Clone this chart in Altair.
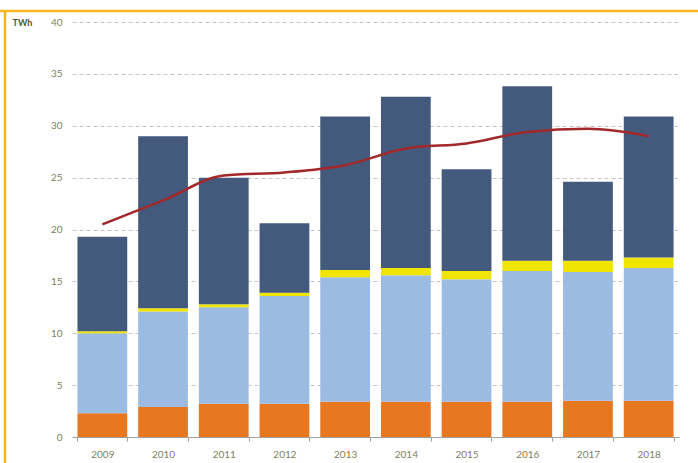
import altair as alt
import pandas as pd

years = ["2009", "2010", "2011", "2012", "2013", "2014", "2015", "2016", "2017", "2018"]
orange_vals = [2.3, 2.9, 3.2, 3.2, 3.4, 3.4, 3.4, 3.4, 3.5, 3.5]
lightblue_vals = [7.7, 9.2, 9.3, 10.4, 12.0, 12.2, 11.8, 12.6, 12.4, 12.8]
yellow_vals = [0.2, 0.3, 0.3, 0.3, 0.7, 0.7, 0.8, 1.0, 1.1, 1.0]
darkblue_vals = [9.1, 16.6, 12.2, 6.7, 14.8, 16.5, 9.8, 16.8, 7.6, 13.6]
line_vals = [20.5, 22.8, 25.2, 25.5, 26.2, 27.8, 28.3, 29.4, 29.7, 29.0]

series = ["A", "B", "C", "D"]
colors = ["#E87722", "#9BBBE3", "#F0E500", "#445A7C"]
all_vals = [orange_vals, lightblue_vals, yellow_vals, darkblue_vals]

rows = []
for si, (name, vals) in enumerate(zip(series, all_vals)):
    for y, v in zip(years, vals):
        rows.append({"year": y, "series": name, "order": si, "value": v})
bars_df = pd.DataFrame(rows)
line_df = pd.DataFrame({"year": years, "value": line_vals})

label_color = "#7C7F5E"
font = "Lato"

xaxis = alt.Axis(
    title=None, labelAngle=0, labelColor=label_color, labelFontSize=10,
    labelFont=font, labelPadding=8, domainColor="#A0A0A0", tickColor="#A0A0A0",
    tickSize=4, tickBand="extent", grid=False,
)
yaxis = alt.Axis(
    values=[0, 5, 10, 15, 20, 25, 30, 35, 40],
    title="TWh", titleAngle=0, titleX=-60, titleY=0, titleAlign="left",
    titleBaseline="middle", titleFontSize=9, titleFont=font, titleFontWeight="bold",
    titleColor="#4F5A30",
    labelColor=label_color, labelFontSize=10, labelFont=font, labelPadding=10,
    domain=False, ticks=False, grid=True, gridColor="#C4C4C4", gridDash=[4, 3],
    gridWidth=1,
)
xscale = alt.Scale(type="band", paddingInner=0.18, paddingOuter=0.09)
yscale = alt.Scale(domain=[0, 40], nice=False)

bars = alt.Chart(bars_df).mark_bar().encode(
    x=alt.X("year:N", sort=years, scale=xscale, axis=xaxis),
    y=alt.Y("sum(value):Q", scale=yscale, stack="zero", axis=yaxis),
    color=alt.Color("series:N", scale=alt.Scale(domain=series, range=colors), legend=None),
    order=alt.Order("order:Q", sort="ascending"),
)

line = alt.Chart(line_df).mark_line(
    color="#A3282B", strokeWidth=2.5, interpolate="monotone"
).encode(
    x=alt.X("year:N", sort=years, scale=xscale, axis=xaxis, bandPosition=0.5),
    y=alt.Y("value:Q", scale=yscale, axis=yaxis),
)

border_df = pd.DataFrame({"k": [0]})
# mask for a stray vertical edge line at the right of the plot area
edge_mask = alt.Chart(border_df).mark_rule(color="white", strokeWidth=2.5).encode(
    x=alt.value(607.5), x2=alt.value(607.5), y=alt.value(-9), y2=alt.value(414)
)
border_top = alt.Chart(border_df).mark_rule(color="#F9B51A", strokeWidth=2.5).encode(
    x=alt.value(-72), x2=alt.value(626), y=alt.value(-11), y2=alt.value(-11)
)
border_left = alt.Chart(border_df).mark_rule(color="#F9B51A", strokeWidth=2.5).encode(
    x=alt.value(-67), x2=alt.value(-67), y=alt.value(-12), y2=alt.value(441)
)

chart = alt.layer(bars, line, edge_mask, border_top, border_left).properties(
    width=607,
    height=415,
    padding={"left": 72, "top": 22, "right": 19, "bottom": 26},
    autosize=alt.AutoSizeParams(type="none"),
).configure(
    background="white",
    view=alt.ViewConfig(stroke="transparent", strokeWidth=0),
)

chart.save("out.html", embed_options={"renderer": "svg", "actions": False})
